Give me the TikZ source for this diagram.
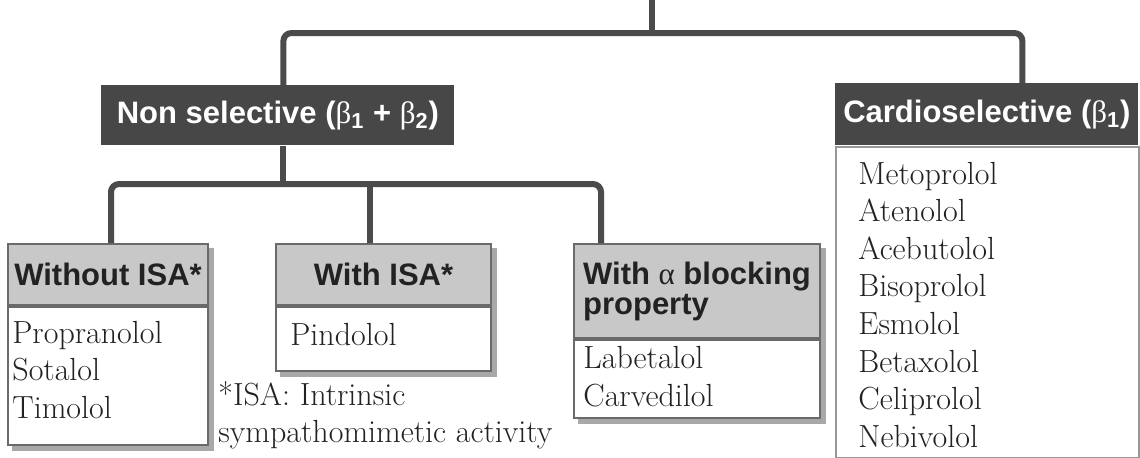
\documentclass[tikz,border=0pt]{standalone}
\usepackage{fontspec}
\setsansfont{Liberation Sans}
\newfontfamily\grkfont{Liberation Serif}
\usepackage{tikz}
\usetikzlibrary{backgrounds}
\definecolor{HeadDark}{HTML}{474747}
\definecolor{HeadLight}{HTML}{C8C8C8}
\definecolor{LineGray}{HTML}{4B4B4B}
\definecolor{BoxLine}{HTML}{6A6A6A}
\definecolor{ShadowGray}{HTML}{A8A8A8}
\definecolor{InkDark}{HTML}{222222}
\newcommand{\hdfont}{\sffamily\bfseries\fontsize{15.5}{15}\selectfont}
\newcommand{\rxfont}{\fontsize{16}{18}\selectfont}
\newcommand{\grk}[1]{{\grkfont\mdseries #1}}
\tikzset{
  darkhead/.style={fill=HeadDark, text=white, font=\hdfont, inner sep=0pt, anchor=north west},
  lighthead/.style={draw=BoxLine, line width=1pt, fill=HeadLight, text=InkDark, font=\hdfont, inner sep=0pt, anchor=north west},
  listbox/.style={draw=BoxLine, line width=1pt, fill=white, inner sep=0pt, anchor=north west},
  drug/.style={font=\rxfont, text=InkDark, inner sep=0pt, anchor=base west},
  conn/.style={draw=LineGray, line width=3pt, rounded corners=4pt},
}

\begin{document}
\begin{tikzpicture}[x=0.5pt,y=-0.5pt]
\useasboundingbox (0,0) rectangle (1140,457);

% top level
\node[darkhead, minimum width=176.5pt, minimum height=30pt] (nonsel) at (101,85)
  {Non selective (\grk{β}\textsubscript{1} + \grk{β}\textsubscript{2})};
\node[darkhead, minimum width=151.5pt, minimum height=31pt] (cardio) at (835,83)
  {Cardioselective (\grk{β}\textsubscript{1})};
\node[listbox, draw=BoxLine!70, minimum width=151.5pt, minimum height=155.5pt] (cardiolist) at (cardio.south west) {};

% second level
\node[lighthead, minimum width=100pt, minimum height=30.5pt] (woisa) at (7,243) {Without ISA*};
\node[listbox, minimum width=100pt, minimum height=69pt] (woisalist) at (woisa.south west) {};
\node[lighthead, minimum width=107.5pt, minimum height=30.5pt] (wisa) at (275,243) {With ISA*};
\node[listbox, minimum width=107.5pt, minimum height=32pt] (wisalist) at (wisa.south west) {};
\node[lighthead, minimum width=123pt, minimum height=47pt, align=left] (walpha) at (573,243)
  {With \grk{α} blocking\\property};
\node[listbox, minimum width=123pt, minimum height=39pt] (walphalist) at (walpha.south west) {};

\begin{scope}[on background layer]
\foreach \hd/\ls in {woisa/woisalist,wisa/wisalist,walpha/walphalist}
  \fill[ShadowGray] ([shift={(5,5)}]\hd.north west) rectangle ([shift={(5,5)}]\ls.south east);
\end{scope}

% drug lists
\foreach \rx [count=\i] in {Propranolol,Sotalol,Timolol}
  \node[drug] (woisa\i) at (12,{343+37.5*(\i-1)}) {\rx};
\node[drug] (wisa1) at (290,345) {Pindolol};
\foreach \rx [count=\i] in {Labetalol,Carvedilol}
  \node[drug] (walpha\i) at (583,{368+38*(\i-1)}) {\rx};
\foreach \rx [count=\i] in {Metoprolol,Atenolol,Acebutolol,Bisoprolol,Esmolol,Betaxolol,Celiprolol,Nebivolol}
  \node[drug] (cardio\i) at (858,{184+37.6*(\i-1)}) {\rx};

\node[drug] (note1) at (218,405) {*ISA: Intrinsic};
\node[drug] (note2) at (218,442) {sympathomimetic activity};

% connectors
\coordinate (root) at (652,0);
\coordinate (lvl1) at (0,33);
\coordinate (lvl2) at (0,184);
\coordinate (d0) at ([xshift=2.75pt]nonsel.south);
\coordinate (d1) at ([xshift=1.5pt]woisa.north);
\coordinate (d2) at ([xshift=-6.75pt]wisa.north);
\coordinate (d3) at ([xshift=-48pt]walpha.north);
\draw[conn] (root) -- (root |- lvl1);
\draw[conn] ([xshift=2.75pt]nonsel.north) |- (root |- lvl1) -| ([xshift=17.75pt]cardio.north);
\draw[conn] (d0) -- (d0 |- lvl2);
\draw[conn] (d1) |- (d3 |- lvl2) -- (d3);
\draw[conn] (d2) -- (d2 |- lvl2);
\end{tikzpicture}
\end{document}
